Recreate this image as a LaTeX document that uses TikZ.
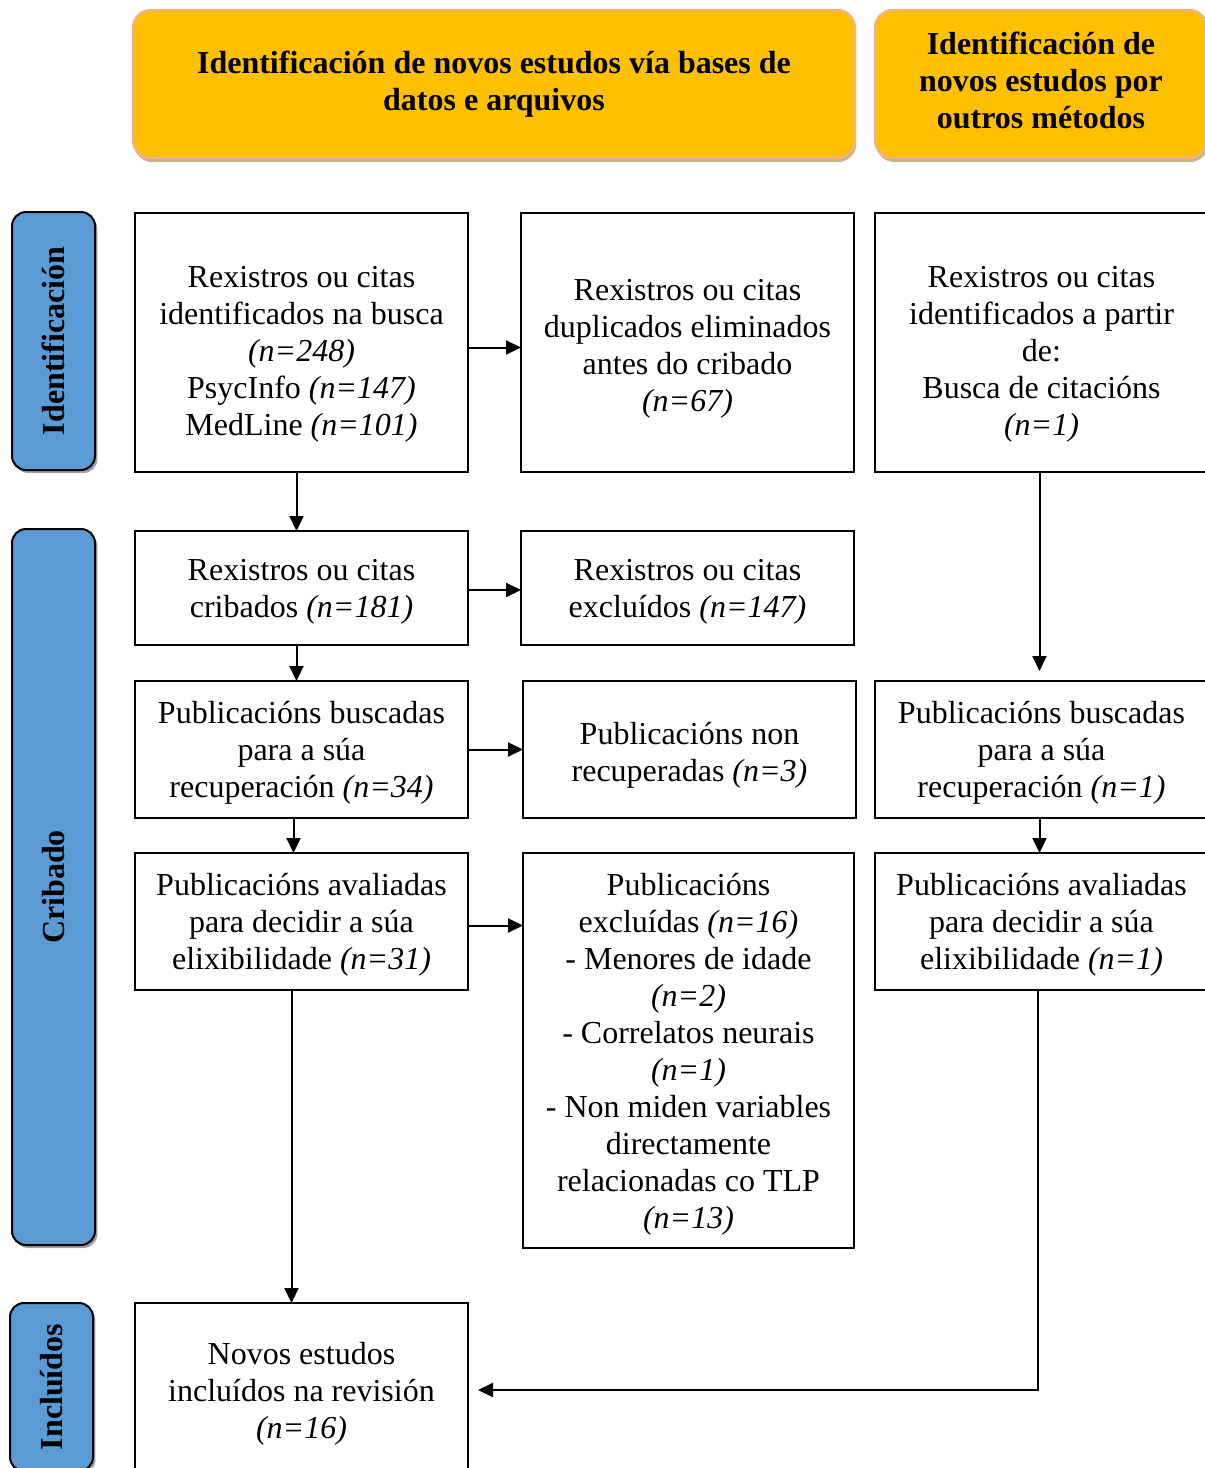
\documentclass[tikz,border=0pt]{standalone}
\usepackage{graphicx}
\usepackage{fontspec}
\setmainfont{Liberation Serif}
\usepackage{tikz}
\usetikzlibrary{arrows.meta,positioning,shadows}
\usepackage{xcolor}
\definecolor{headeryellow}{RGB}{255,192,0}
\definecolor{headerline}{RGB}{244,177,131}
\definecolor{headershade}{RGB}{201,178,138}
\definecolor{phaseblue}{RGB}{91,155,213}
\definecolor{phaseshade}{RGB}{160,160,160}
\tikzset{
  box/.style={rectangle, draw=black, line width=1pt, fill=white, inner sep=0pt, outer sep=0pt,
              minimum width=166.5pt, text depth=0pt, align=center, font=\fontsize{16}{18.5}\selectfont},
  header/.style={rectangle, rounded corners=9pt, draw=headerline, line width=1.2pt, fill=headeryellow,
                 minimum height=74pt, align=center, font=\fontsize{16}{18.5}\selectfont\bfseries,
                 drop shadow={shadow xshift=0.6pt, shadow yshift=-2pt, fill=headershade, opacity=1}},
  phase/.style={rectangle, rounded corners=7pt, draw=black, line width=1pt, fill=phaseblue,
                minimum width=41.5pt, inner sep=0pt, font=\fontsize{16}{18.5}\selectfont\bfseries,
                drop shadow={shadow xshift=1.2pt, shadow yshift=-1.5pt, fill=phaseshade, opacity=1}},
  arrow/.style={-{Triangle[length=7.5pt,width=7pt]}, line width=1pt},
}

\begin{document}
\begin{tikzpicture}[x=0.5pt, y=-0.5pt]
\useasboundingbox (0,0) rectangle (1205,1468);

\node[header, minimum width=361pt] (head1) at (494,84) {Identificación de novos estudos vía bases de\\datos e arquivos};
\node[header, minimum width=166pt, text depth=4.2pt] (head2) at (1041,84) {Identificación de\\novos estudos por\\outros métodos};

\node[phase, minimum height=129pt] (ident) at (53.5,341) {\rotatebox{90}{Identificación}};
\node[phase, minimum height=358pt] (crib) at (53.5,887) {\rotatebox{90}{Cribado}};
\node[phase, minimum height=84pt] (incl) at (51.5,1387) {\rotatebox{90}{Incluídos}};

\node[box, minimum height=129.5pt, text height=92.6pt] (busca) at (301.5,342.5) {Rexistros ou citas\\identificados na busca\\\textit{(n=248)}\\PsycInfo \textit{(n=147)}\\MedLine \textit{(n=101)}};
\node[box, minimum height=129.5pt, text height=68.6pt, right=26.5pt of busca] (dupl) {Rexistros ou citas\\duplicados eliminados\\antes do cribado\\\textit{(n=67)}};
\node[box, minimum height=129.5pt, text height=92.6pt, right=10.5pt of dupl] (outros) {Rexistros ou citas\\identificados a partir\\de:\\Busca de citacións\\\textit{(n=1)}};

\node[box, minimum height=57pt, below=29.5pt of busca] (cribados) {Rexistros ou citas\\cribados \textit{(n=181)}};
\node[box, minimum height=57pt, right=26.5pt of cribados] (excl) {Rexistros ou citas\\excluídos \textit{(n=147)}};

\node[box, minimum height=68.5pt, below=18pt of cribados] (buscadas) {Publicacións buscadas\\para a súa\\recuperación \textit{(n=34)}};
\node[box, minimum height=68.5pt, text height=32pt, right=27.5pt of buscadas] (nonrec) {Publicacións non\\recuperadas \textit{(n=3)}};
\node[box, minimum height=68.5pt, below=104.5pt of outros] (buscadas2) {Publicacións buscadas\\para a súa\\recuperación \textit{(n=1)}};

\node[box, minimum height=68.5pt, below=17.5pt of buscadas] (avaliadas) {Publicacións avaliadas\\para decidir a súa\\elixibilidade \textit{(n=31)}};
\node[box, minimum width=165.5pt, minimum height=197.5pt, anchor=north west] (exclpub) at ([xshift=27.5pt]avaliadas.north east) {Publicacións\\excluídas \textit{(n=16)}\\- Menores de idade\\\textit{(n=2)}\\- Correlatos neurais\\\textit{(n=1)}\\- Non miden variables\\directamente\\relacionadas co TLP\\\textit{(n=13)}};
\node[box, minimum height=68.5pt, below=17.5pt of buscadas2] (avaliadas2) {Publicacións avaliadas\\para decidir a súa\\elixibilidade \textit{(n=1)}};

\node[box, minimum height=87pt, below=156.5pt of avaliadas] (incluidos) {Novos estudos\\incluídos na revisión\\\textit{(n=16)}};

\draw[arrow] ([yshift=-2.5pt]busca.east) -- ([yshift=-2.5pt]dupl.west);
\draw[arrow] ([xshift=-2.5pt]busca.south) -- ([xshift=-2.5pt]cribados.north);
\draw[arrow] ([yshift=-1pt]cribados.east) -- ([yshift=-1pt]excl.west);
\draw[arrow] ([xshift=-2.5pt]cribados.south) -- ([xshift=-2.5pt]buscadas.north);
\draw[arrow] (buscadas) -- (nonrec);
\draw[arrow] ([xshift=-4pt]buscadas.south) -- ([xshift=-4pt]avaliadas.north);
\draw[arrow] ([yshift=-2pt]avaliadas.east) -- ([yshift=-2pt]avaliadas.east -| exclpub.west);
\draw[arrow] ([xshift=-5pt]avaliadas.south) -- ([xshift=-5pt]incluidos.north);
\draw[arrow, shorten >=5pt] ([xshift=-1pt]outros.south) -- ([xshift=-1pt]buscadas2.north);
\draw[arrow] ([xshift=-1pt]buscadas2.south) -- ([xshift=-1pt]avaliadas2.north);
\draw[arrow, shorten >=5pt] ([xshift=-2pt]avaliadas2.south) |- (incluidos.east);
\end{tikzpicture}
\end{document}
